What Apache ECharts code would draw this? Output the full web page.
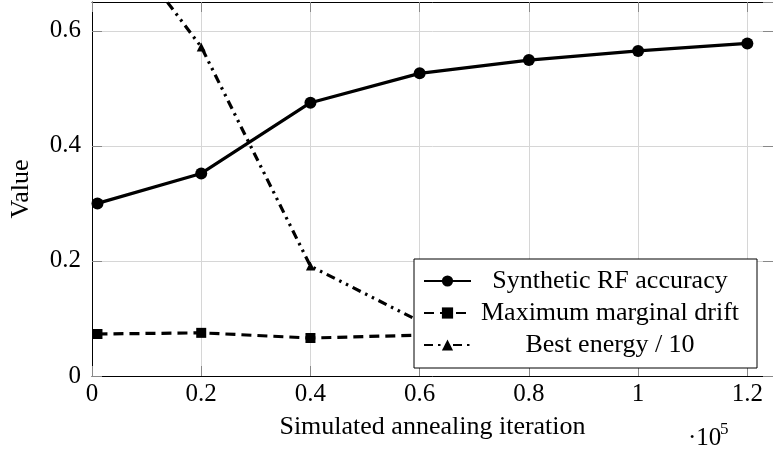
<!DOCTYPE html>
<html>
<head>
<meta charset="utf-8">
<script src="https://cdn.jsdelivr.net/npm/echarts@6/dist/echarts.min.js"></script>
<style>
html,body{margin:0;padding:0;background:#fff;}
#c{width:773px;height:450px;}
</style>
</head>
<body>
<div id="c"></div>
<script>
// x in units of 10^5 iterations
var iterations = [0.01, 0.2, 0.4, 0.6, 0.8, 1.0, 1.2];
var rfAccuracy = [0.300, 0.352, 0.475, 0.526, 0.549, 0.565, 0.578];
var marginalDrift = [0.073, 0.075, 0.066, 0.071, 0.069, 0.068, 0.067];
var bestEnergy10 = [0.81, 0.572, 0.191, 0.095, 0.085, 0.080, 0.076];
var seriesNames = ['Synthetic RF accuracy', 'Maximum marginal drift', 'Best energy / 10'];
var xTitle = 'Simulated annealing iteration';
var yTitle = 'Value';

function pairs(ys){ return iterations.map(function(x,i){ return [x, ys[i]]; }); }

var FONT = 'Liberation Serif';
var chart = echarts.init(document.getElementById('c'), null, {renderer:'canvas'});

var XMIN = 0, XMAX = 1.247, YMIN = 0, YMAX = 0.65;
var tickStyle = {show:true, inside:true, length:10, lineStyle:{color:'#888', width:1}};
var axLine = {show:true, onZero:false, lineStyle:{color:'#000', width:1}};

chart.setOption({
  animation:false,
  backgroundColor:'#fff',
  grid:{left:86, right:-3, top:2, bottom:74, containLabel:false},
  xAxis:[{
    type:'value', min:XMIN, max:XMAX, interval:0.2, position:'bottom',
    axisLine:axLine, axisTick:tickStyle,
    splitLine:{show:true, lineStyle:{color:'#d6d6d6', width:1}},
    axisLabel:{show:true, margin:6, color:'#000', fontFamily:FONT, fontSize:25, showMaxLabel:false,
      formatter:function(v){ return String(Math.round(v*10)/10); }},
    name:xTitle, nameLocation:'middle', nameGap:38,
    nameTextStyle:{color:'#000', fontFamily:FONT, fontSize:26}
  },{
    type:'value', min:XMIN, max:XMAX, interval:0.2, position:'top',
    axisLine:axLine, axisTick:tickStyle, axisLabel:{show:false}, splitLine:{show:false}
  }],
  yAxis:[{
    type:'value', min:YMIN, max:YMAX, interval:0.2, position:'left',
    axisLine:axLine, axisTick:tickStyle,
    splitLine:{show:true, lineStyle:{color:'#d6d6d6', width:1}},
    axisLabel:{show:true, margin:11, color:'#000', fontFamily:FONT, fontSize:25, showMaxLabel:false,
      formatter:function(v){ return String(Math.round(v*10)/10); }},
    name:yTitle, nameLocation:'middle', nameGap:58,
    nameTextStyle:{color:'#000', fontFamily:FONT, fontSize:26}
  },{
    type:'value', min:YMIN, max:YMAX, interval:0.2, position:'right',
    axisLine:axLine, axisTick:tickStyle, axisLabel:{show:false}, splitLine:{show:false}
  }],
  legend:{
    orient:'vertical', left:414, top:259,
    backgroundColor:'#fff', borderColor:'#000', borderWidth:1, borderRadius:0,
    padding:[9,13,10,9], itemGap:6, itemWidth:47, itemHeight:14,
    data:seriesNames,
    formatter:function(n){ return '{t|' + n + '}'; },
    textStyle:{color:'#000', fontFamily:FONT, fontSize:26,
      rich:{t:{width:268, align:'center', fontFamily:FONT, fontSize:26, lineHeight:24, color:'#000'}}}
  },
  graphic:[
    {type:'text', left:688, top:426, style:{text:'·10', fill:'#000', font:'25px "Liberation Serif"'}},
    {type:'text', left:720, top:421, style:{text:'5', fill:'#000', font:'17px "Liberation Serif"'}}
  ],
  series:[{
    name:seriesNames[0], type:'line', data:pairs(rfAccuracy),
    symbol:'circle', symbolSize:12, clip:true,
    lineStyle:{color:'#000', width:3.2}, itemStyle:{color:'#000'}
  },{
    name:seriesNames[1], type:'line', data:pairs(marginalDrift),
    symbol:'rect', symbolSize:10, clip:true,
    lineStyle:{color:'#000', width:3.2, type:[10,6]}, itemStyle:{color:'#000'}
  },{
    name:seriesNames[2], type:'line', data:pairs(bestEnergy10),
    symbol:'triangle', symbolSize:9, clip:true,
    lineStyle:{color:'#000', width:3.2, type:[9,5,2.5,5,2.5,5]}, itemStyle:{color:'#000'}
  }]
});
</script>
</body>
</html>
